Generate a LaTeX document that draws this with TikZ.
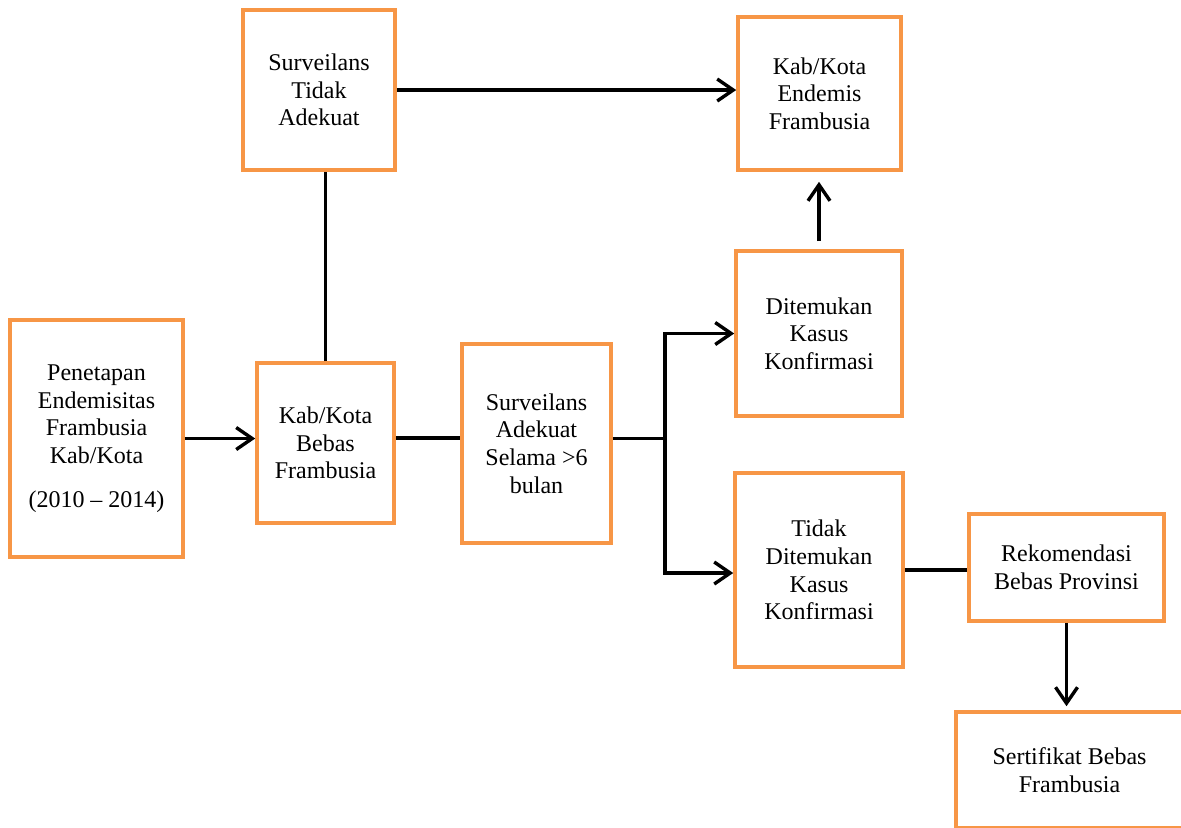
\documentclass[tikz,border=0pt]{standalone}
\usepackage{fontspec}
\setmainfont{Liberation Serif}
\usepackage{tikz}
\usetikzlibrary{arrows.meta,positioning,calc}
\definecolor{boxorange}{HTML}{F79646}
\tikzstyle{box} = [draw=boxorange,line width=1.8pt,align=center,inner sep=2pt,font=\fontsize{12}{13.8}\selectfont]
\tikzstyle{link} = [line width=1.7pt]
\tikzset{>={Straight Barb[length=8pt,width=11pt]}}

\begin{document}
\begin{tikzpicture}[x=0.5pt,y=-0.5pt]
    \useasboundingbox (0,0) rectangle (1181,827);
    \clip (0,0) rectangle (1181,827);

    \node [box,minimum width=76pt,minimum height=80pt] (sta) at (319,90) {Surveilans\\Tidak\\Adekuat};
    \node [box,minimum width=81.5pt,minimum height=76.5pt] (endemis) at (819.5,93.5) {Kab/Kota\\Endemis\\Frambusia};
    \node [box,minimum width=86.5pt,minimum height=118.5pt] (pen) at (96.5,438.5) {Penetapan\\Endemisitas\\Frambusia\\Kab/Kota\\[8pt](2010 -- 2014)};
    \node [box,minimum width=68.5pt,minimum height=80pt] (bebas) at (325.5,443) {Kab/Kota\\Bebas\\Frambusia};
    \node [box,minimum width=74.5pt,minimum height=99.5pt] (sad) at (536.5,443.5) {Surveilans\\Adekuat\\Selama >6\\bulan};
    \node [box,minimum width=83pt,minimum height=82.5pt] (temu) at (819,333.5) {Ditemukan\\Kasus\\Konfirmasi};
    \node [box,minimum width=84pt,minimum height=97pt] (tidak) at (819,570) {Tidak\\Ditemukan\\Kasus\\Konfirmasi};
    \node [box,minimum width=97.5pt,minimum height=53.5pt] (rek) at (1066.5,567.5) {Rekomendasi\\Bebas Provinsi};
    \node [box,minimum width=113.5pt,minimum height=58pt] (sert) at (1069.5,770) {Sertifikat Bebas\\Frambusia};

    % main flow
    \draw [link,->] (pen.east) -- (pen.east -| bebas.west);
    \draw [link] (bebas.north) -- (bebas.north |- sta.south);
    \draw [link,->] (sta.east) -- (sta.east -| endemis.west);
    \draw [link] ([yshift=2.5pt]bebas.east) -- ([yshift=2.5pt]bebas.east -| sad.west);

    % branch after surveillance
    \draw [link] ([yshift=2.5pt]sad.east) -- ++(26pt,0) coordinate (br);
    \draw [link,->] (br) |- (temu.west);
    \draw [link,->] (br) |- ([yshift=-1.5pt]tidak.west);

    \draw [link,->] ([yshift=4pt]temu.north) -- ([yshift=-5pt]temu.north |- endemis.south);
    \draw [link] (tidak.east) -- (tidak.east -| rek.west);
    \draw [link,->,shorten >=2pt] (rek.south) -- (rek.south |- sert.north);
\end{tikzpicture}
\end{document}
